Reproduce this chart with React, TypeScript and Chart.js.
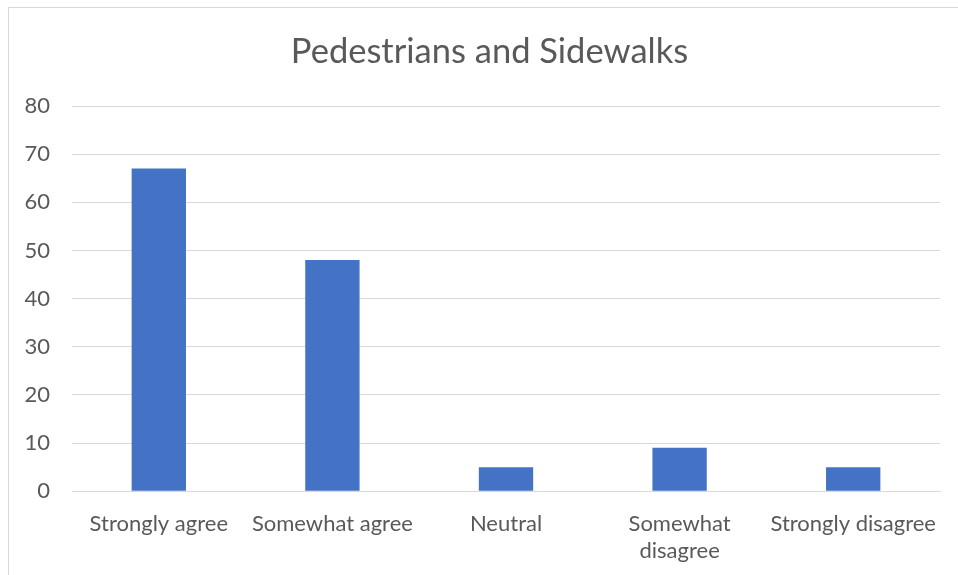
import React, { useEffect, useRef } from "react";
import { Chart, registerables } from "chart.js";

Chart.register(...registerables);

const categories: (string | string[])[] = [
  "Strongly agree",
  "Somewhat agree",
  "Neutral",
  ["Somewhat", "disagree"],
  "Strongly disagree",
];
const values: number[] = [67, 48, 5, 9, 5];
const titleText = "Pedestrians and Sidewalks";

const FONT = "Lato, 'Open Sans', sans-serif";
const TEXT = "#595959";
const GRID = "#d9d9d9";

const titlePlugin = {
  id: "sheetTitle",
  afterDraw(chart: any) {
    const { ctx } = chart;
    ctx.save();
    ctx.font = `34.5px ${FONT}`;
    ctx.fillStyle = TEXT;
    ctx.textAlign = "center";
    ctx.textBaseline = "middle";
    ctx.fillText(titleText, chart.width / 2 + 6, 44);
    ctx.restore();
  },
};

export default function App() {
  const ref = useRef<HTMLCanvasElement | null>(null);
  useEffect(() => {
    if (!ref.current) return;
    const chart = new Chart(ref.current, {
      type: "bar",
      data: {
        labels: categories,
        datasets: [
          {
            data: values,
            backgroundColor: "#4472C4",
            barPercentage: 0.313,
            categoryPercentage: 1,
          },
        ],
      },
      plugins: [titlePlugin],
      options: {
        responsive: false,
        animation: false,
        layout: { padding: { left: 0, right: 18, top: 98, bottom: -1 } },
        plugins: {
          legend: { display: false },
          tooltip: { enabled: false },
          title: { display: false },
        },
        scales: {
          x: {
            grid: { display: false },
            border: { display: true, color: GRID, width: 1 },
            afterFit: (scale: any) => {
              scale.paddingLeft = 0;
              scale.paddingRight = 0;
            },
            ticks: {
              color: TEXT,
              font: { family: FONT, size: 22 },
              padding: 12,
              maxRotation: 0,
              autoSkip: false,
            },
          },
          y: {
            min: 0,
            max: 80,
            afterFit: (scale: any) => {
              scale.width = 63;
            },
            ticks: {
              stepSize: 10,
              color: TEXT,
              font: { family: FONT, size: 22 },
              padding: 22,
            },
            grid: { color: GRID, lineWidth: 1, drawTicks: false },
            border: { display: false },
          },
        },
      },
    });
    return () => chart.destroy();
  }, []);
  return (
    <div
      style={{
        position: "absolute",
        left: 8,
        top: 7,
        width: 950,
        height: 568,
        borderLeft: "1px solid #d9d9d9",
        borderTop: "1px solid #d9d9d9",
        boxSizing: "border-box",
        background: "#fff",
      }}
    >
      <canvas ref={ref} width={949} height={567} style={{ display: "block" }} />
    </div>
  );
}
